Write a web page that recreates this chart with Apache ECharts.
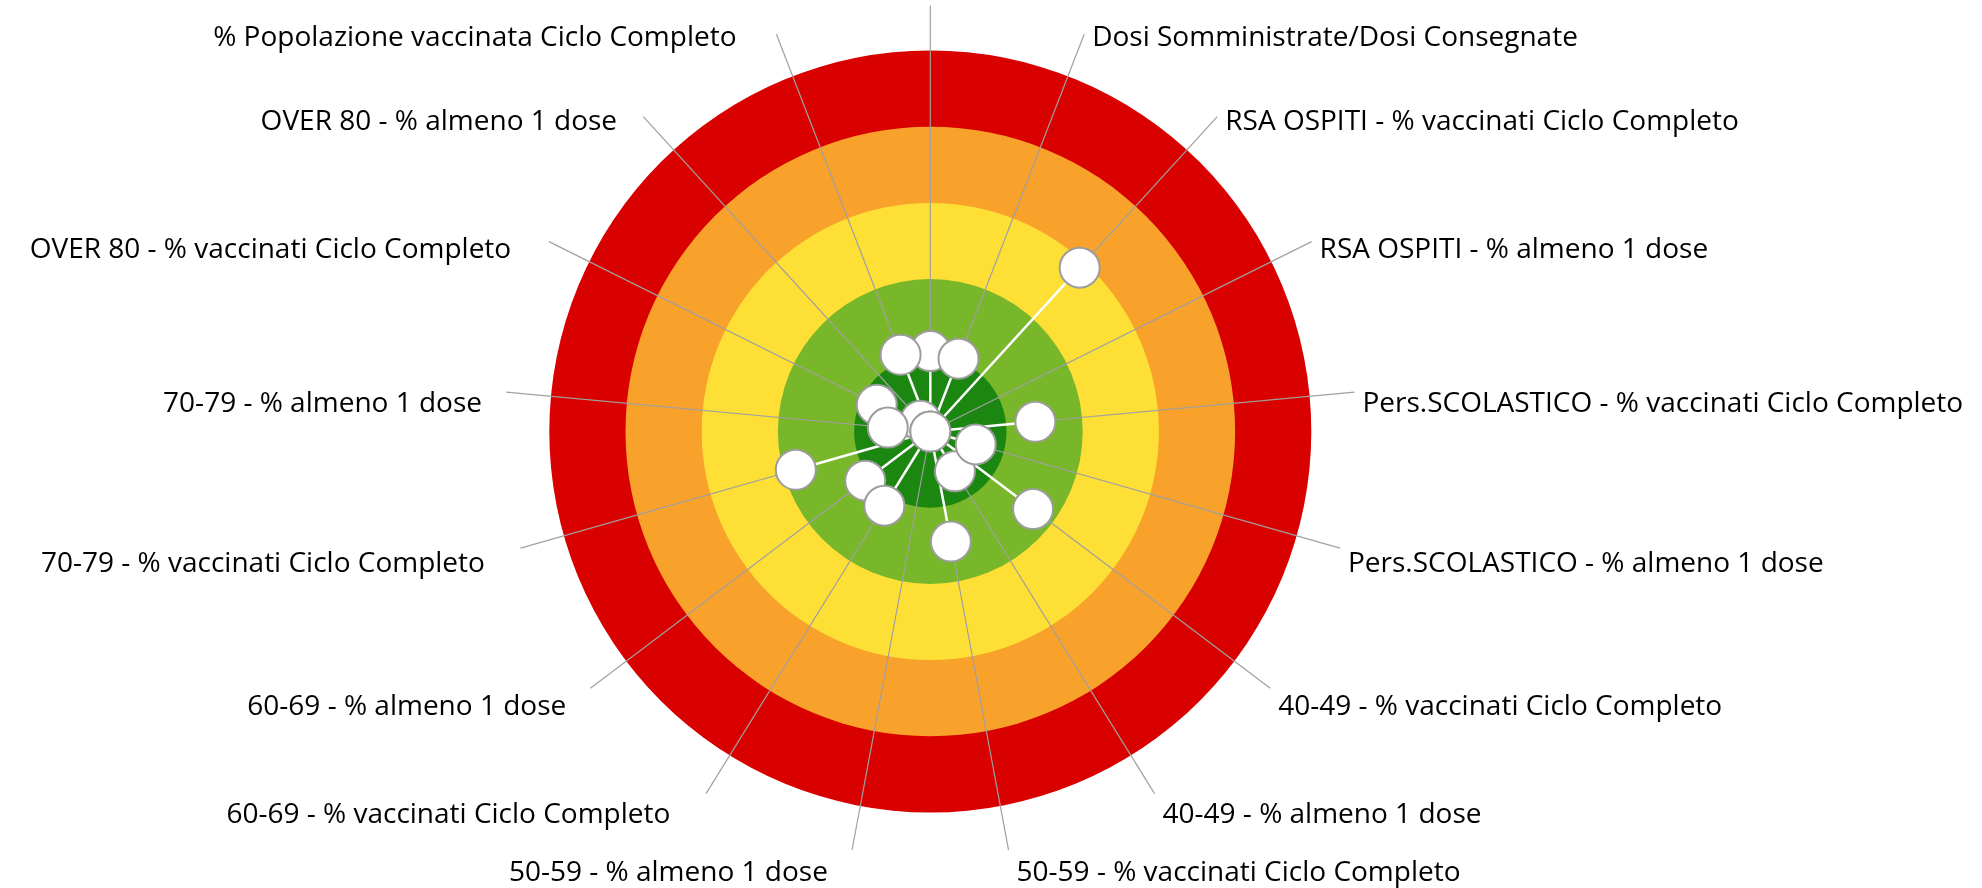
<!DOCTYPE html>
<html>
<head>
<meta charset="utf-8">
<title>Indicatori vaccinazione</title>
<script src="https://cdn.jsdelivr.net/npm/echarts@6/dist/echarts.min.js"></script>
<style>
  html, body { margin: 0; padding: 0; background: #ffffff; }
  #chart { width: 1982px; height: 888px; }
</style>
</head>
<body>
<div id="chart"></div>
<script>
// Indicators, counter-clockwise starting from the top spoke
const categories = [
  '',
  '% Popolazione vaccinata Ciclo Completo',
  'OVER 80 - % almeno 1 dose',
  'OVER 80 - % vaccinati Ciclo Completo',
  '70-79 - % almeno 1 dose',
  '70-79 - % vaccinati Ciclo Completo',
  '60-69 - % almeno 1 dose',
  '60-69 - % vaccinati Ciclo Completo',
  '50-59 - % almeno 1 dose',
  '50-59 - % vaccinati Ciclo Completo',
  '40-49 - % almeno 1 dose',
  '40-49 - % vaccinati Ciclo Completo',
  'Pers.SCOLASTICO - % almeno 1 dose',
  'Pers.SCOLASTICO - % vaccinati Ciclo Completo',
  'RSA OSPITI - % almeno 1 dose',
  'RSA OSPITI - % vaccinati Ciclo Completo',
  'Dosi Somministrate/Dosi Consegnate'
];

// Distance from target (0 = centre, 100 = outer edge of the red band)
const scores = [21.1, 21.6, 3.8, 15.7, 11.2, 36.7, 21.4, 22.9, 0, 29.4, 12.3, 33.8, 12.4, 27.7, 0, 58.2, 20.5];

// Band limits, outermost first
const bandLimits = [100, 80, 60, 40, 20];
const bandColors = ['#d90000', '#f8a22b', '#fedf36', '#78b72a', '#1b8711'];

// How far the spokes run past the outer band (radius units)
const spokeReach = 111.8;

const chart = echarts.init(document.getElementById('chart'), null, { renderer: 'canvas' });

const FONT = '28px "Open Sans"';

function bandItem(params, api) {
  const c = api.coord([0, 0]);
  const p = api.coord([api.value(0), 0]);
  const r = Math.hypot(p[0] - c[0], p[1] - c[1]);
  return {
    type: 'circle',
    shape: { cx: c[0], cy: c[1], r: r },
    style: { fill: bandColors[params.dataIndex] }
  };
}

function spokeItem(params, api) {
  const k = api.value(1);
  const c = api.coord([0, k]);
  const e = api.coord([api.value(0), k]);
  const name = categories[params.dataIndex];
  const children = [{
    type: 'line',
    shape: { x1: c[0], y1: c[1], x2: e[0], y2: e[1] },
    style: { stroke: '#a0a0a0', lineWidth: 1.2 }
  }];
  if (name) {
    const len = Math.hypot(e[0] - c[0], e[1] - c[1]);
    const cosUp = (c[1] - e[1]) / len;
    // labels drop a little further below the spoke end towards the bottom
    const dy = 3 + 10 * (1 - cosUp);
    const right = e[0] > c[0];
    const x = right ? e[0] + 8 : e[0] - 1.05 * name.length;
    children.push({
      type: 'text',
      style: {
        text: name,
        x: x,
        y: e[1] + dy,
        fill: '#000000',
        font: FONT,
        align: right ? 'left' : 'right',
        verticalAlign: 'middle'
      }
    });
  }
  return { type: 'group', children: children };
}

function stemItem(params, api) {
  const k = api.value(1);
  const c = api.coord([0, k]);
  const p = api.coord([api.value(0), k]);
  return {
    type: 'line',
    shape: { x1: c[0], y1: c[1], x2: p[0], y2: p[1] },
    style: { stroke: '#ffffff', lineWidth: 2.5 }
  };
}

const option = {
  animation: false,
  backgroundColor: '#ffffff',
  polar: { center: [930.3, 431.5], radius: 381 },
  angleAxis: {
    type: 'value',
    min: 0,
    max: categories.length,
    interval: 1,
    startAngle: 90,
    clockwise: false,
    axisLine: { show: false },
    axisTick: { show: false },
    axisLabel: { show: false },
    splitLine: { show: false }
  },
  radiusAxis: {
    type: 'value',
    min: 0,
    max: 100,
    axisLine: { show: false },
    axisTick: { show: false },
    axisLabel: { show: false },
    splitLine: { show: false }
  },
  series: [
    {
      type: 'custom',
      coordinateSystem: 'polar',
      silent: true,
      z: 1,
      data: bandLimits.map(v => [v, 0]),
      renderItem: bandItem
    },
    {
      type: 'custom',
      coordinateSystem: 'polar',
      silent: true,
      z: 2,
      data: categories.map((_, k) => [spokeReach, k]),
      renderItem: spokeItem
    },
    {
      type: 'custom',
      coordinateSystem: 'polar',
      silent: true,
      z: 3,
      data: scores.map((v, k) => [v, k]),
      renderItem: stemItem
    },
    {
      type: 'scatter',
      coordinateSystem: 'polar',
      silent: true,
      z: 4,
      symbol: 'circle',
      symbolSize: 40,
      itemStyle: { color: '#ffffff', borderColor: '#9c9c9c', borderWidth: 2, opacity: 1 },
      data: scores.map((v, k) => [v, k])
    }
  ]
};

chart.setOption(option);
</script>
</body>
</html>
